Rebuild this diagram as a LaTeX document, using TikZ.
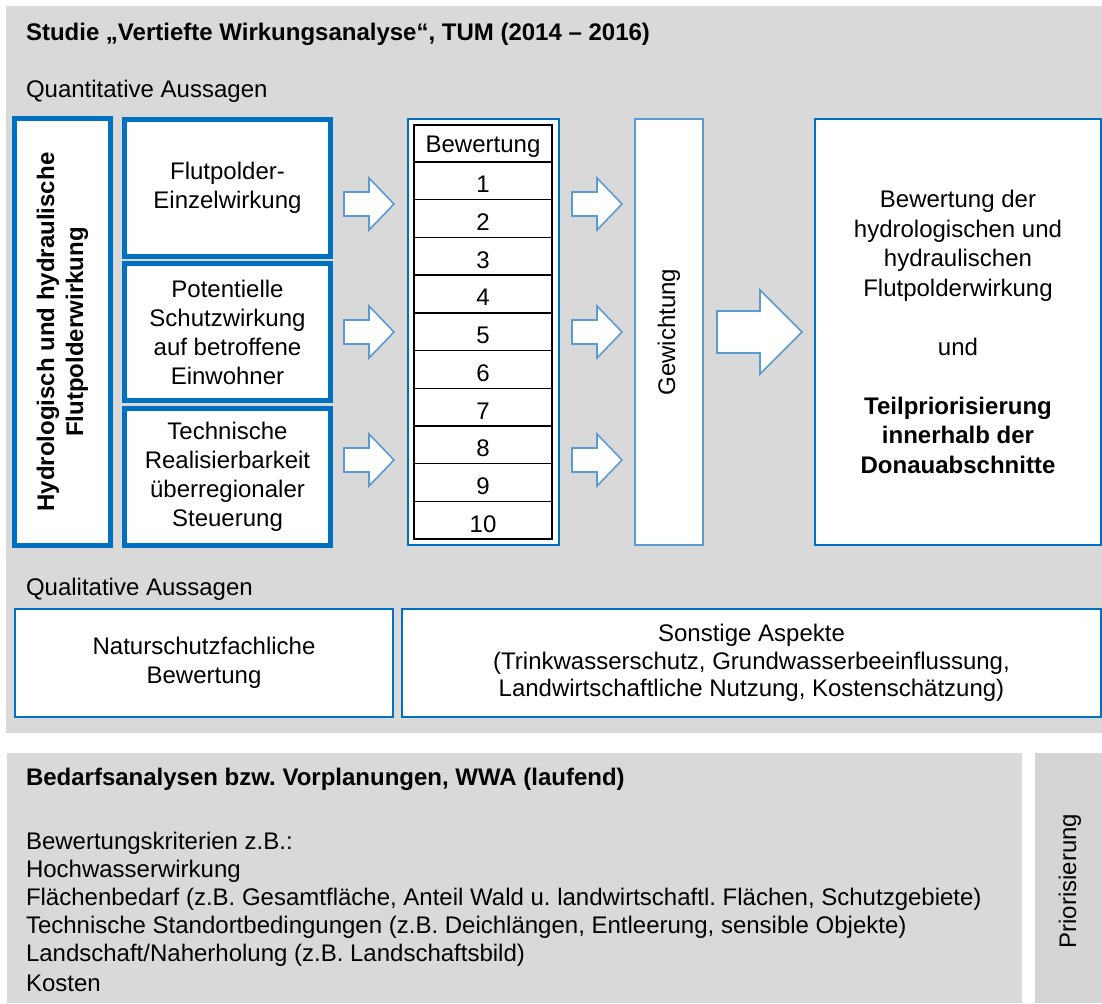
\documentclass[tikz,border=0pt]{standalone}
\usepackage{fontspec}
\setmainfont{Liberation Sans}
\frenchspacing
\definecolor{panelgray}{HTML}{D9D9D9}
\definecolor{priogray}{HTML}{D5D5D5}
\definecolor{darkblue}{HTML}{0070C0}
\definecolor{lightblue}{HTML}{5B9BD5}
\tikzset{
  txt/.style={inner sep=0pt, outer sep=0pt, font=\fontsize{12pt}{14.5pt}\selectfont},
  boldtxt/.style={txt, font=\fontsize{12pt}{14.5pt}\selectfont\bfseries},
  panelbox/.style={fill=panelgray, draw=none, inner sep=0pt, anchor=north west},
  thickbox/.style={draw=darkblue, line width=2.5pt, fill=white, inner sep=0pt, align=center,
    font=\fontsize{12pt}{14.5pt}\selectfont},
  bluebox/.style={draw=darkblue, line width=1pt, fill=white, inner sep=0pt, align=center,
    font=\fontsize{12pt}{14.75pt}\selectfont},
  palebox/.style={draw=lightblue, line width=1pt, fill=white, inner sep=0pt},
  cell/.style={draw=black, line width=0.7pt, fill=white, inner sep=0pt, minimum width=69pt,
    text height=12pt, text depth=0pt, font=\fontsize{12pt}{14.5pt}\selectfont},
  blockarrow/.style={draw=lightblue, line width=0.8pt, fill=white, line join=miter}
}
\begin{document}
\begin{tikzpicture}[x=0.5pt,y=-0.5pt]
\useasboundingbox (0,0) rectangle (1102,1003);
\fill[white] (0,0) rectangle (1102,1003);

% background panels
\node[panelbox, minimum width=548pt, minimum height=363.5pt] (studie) at (6,6) {};
\node[panelbox, minimum width=507.5pt, minimum height=125pt] (bedarf) at (7,753) {};
\node[panelbox, fill=priogray, minimum width=33.5pt, minimum height=125pt] (prio) at (1035,753) {};

% headings of the upper panel
\node[boldtxt, anchor=west] (studietitle) at (26,34) {Studie „Vertiefte Wirkungsanalyse“, TUM (2014 – 2016)};
\node[txt, anchor=west] (quant) at (26,91) {Quantitative Aussagen};
\node[txt, anchor=west] (qual) at (26,589) {Qualitative Aussagen};

% quantitative criteria
\node[thickbox, minimum width=48pt, minimum height=213.5pt] (hydro) at (62.5,332) {};
\node[boldtxt, rotate=90, align=center] (hydrotext) at (hydro.center)
  {Hydrologisch und hydraulische\\Flutpolderwirkung};
\node[thickbox, minimum width=103pt, minimum height=68.5pt] (einzel) at (227.5,188)
  {Flutpolder-\\Einzelwirkung};
\node[thickbox, minimum width=103pt, minimum height=68.5pt] (schutz) at (227.5,332)
  {Potentielle\\Schutzwirkung\\auf betroffene\\Einwohner};
\node[thickbox, minimum width=103pt, minimum height=68.5pt] (technik) at (227.5,477)
  {Technische\\Realisierbarkeit\\überregionaler\\Steuerung};

% rating scale
\node[bluebox, minimum width=75.5pt, minimum height=213pt] (scale) at (483.5,332) {};
\node[cell, minimum height=18.5pt, text height=9pt] (scalehead) at (483,143.5) {Bewertung};
\foreach \i in {1,...,10}
  \node[cell, minimum height=18.85pt] (row\i) at (483,{162+37.7*(\i-0.5)}) {\i};

% weighting
\node[palebox, minimum width=34pt, minimum height=213pt] (gewicht) at (669,332) {};
\node[txt, rotate=90] (gewichttext) at (gewicht.center) {Gewichtung};

% result
\node[bluebox, minimum width=143pt, minimum height=213pt] (ergebnis) at (958,332)
  {Bewertung der\\hydrologischen und\\hydraulischen\\Flutpolderwirkung\\[14.75pt]
   und\\[14.75pt]\textbf{Teilpriorisierung}\\\textbf{innerhalb der}\\\textbf{Donauabschnitte}};

% block arrows
\foreach \x in {344,572}
  \foreach \y in {204,332,460}
    \draw[blockarrow] (\x,{\y-12}) -- ({\x+25},{\y-12}) -- ({\x+25},{\y-26}) -- ({\x+50},\y)
      -- ({\x+25},{\y+26}) -- ({\x+25},{\y+12}) -- (\x,{\y+12}) -- cycle;
\draw[blockarrow] (717,311) -- (760,311) -- (760,290) -- (802,332) -- (760,374)
  -- (760,353) -- (717,353) -- cycle;

% qualitative criteria
\node[bluebox, minimum width=189pt, minimum height=54pt] (natur) at (204,663)
  {Naturschutzfachliche\\Bewertung};
\node[bluebox, minimum width=349.5pt, minimum height=54pt,
  font=\fontsize{12pt}{13.75pt}\selectfont] (sonstige) at (751.5,663)
  {Sonstige Aspekte\\(Trinkwasserschutz, Grundwasserbeeinflussung,\\Landwirtschaftliche Nutzung, Kostenschätzung)};

% lower panel
\node[boldtxt, anchor=west] (bedarftitle) at (26,779) {Bedarfsanalysen bzw. Vorplanungen, WWA (laufend)};
\foreach [count=\k from 0] \line in {
    {Bewertungskriterien z.B.:},
    {Hochwasserwirkung},
    {Flächenbedarf (z.B. Gesamtfläche, Anteil Wald u. landwirtschaftl. Flächen, Schutzgebiete)},
    {Technische Standortbedingungen (z.B. Deichlängen, Entleerung, sensible Objekte)},
    {Landschaft/Naherholung (z.B. Landschaftsbild)},
    {Kosten}}
  \node[txt, anchor=west] (krit\k) at (26,{843+28*\k}) {\line};
\node[txt, rotate=90] (priotext) at (1070,881) {Priorisierung};
\end{tikzpicture}
\end{document}
